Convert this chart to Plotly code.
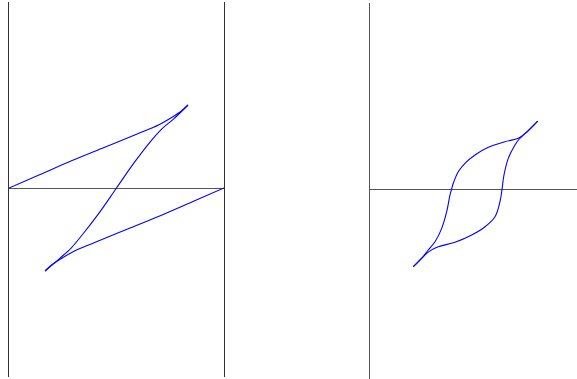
import plotly.graph_objects as go

# Left panel: Z-shaped loop (three branches)
left_upper_x = [-1.0, -0.711, -0.413, -0.104, 0.203, 0.390, 0.520, 0.604, 0.665]
left_upper_y = [0.0, 0.163, 0.331, 0.494, 0.657, 0.759, 0.855, 0.928, 1.0]
left_mid_x = [0.665, 0.53, 0.42, 0.316, 0.161, 0.0, -0.161, -0.316, -0.42, -0.53, -0.665]
left_mid_y = [1.0, 0.83, 0.71, 0.56, 0.30, 0.0, -0.30, -0.56, -0.72, -0.85, -1.0]
left_lower_x = [-0.665, -0.604, -0.520, -0.390, -0.203, 0.104, 0.413, 0.711, 1.0]
left_lower_y = [-1.0, -0.928, -0.855, -0.759, -0.657, -0.494, -0.331, -0.163, 0.0]

# Right panel: S-shaped hysteresis loop (two branches)
right_up_x = [-1.0, -0.84, -0.76, -0.651, -0.543, -0.463, -0.410, -0.386, -0.357, -0.277,
              -0.169, -0.008, 0.206, 0.474, 0.688, 0.80, 1.0]
right_up_y = [-1.06, -0.92, -0.83, -0.717, -0.533, -0.305, -0.075, 0.0, 0.085, 0.244,
              0.360, 0.474, 0.579, 0.656, 0.703, 0.77, 0.940]
right_down_x = [1.0, 0.80, 0.70, 0.635, 0.527, 0.458, 0.426, 0.394, 0.314, 0.153,
                -0.061, -0.330, -0.598, -0.72, -0.84, -1.0]
right_down_y = [0.940, 0.77, 0.69, 0.611, 0.428, 0.199, 0.0, -0.167, -0.373, -0.511,
                -0.625, -0.725, -0.785, -0.835, -0.92, -1.06]

W, H = 577, 379
line_style = dict(color="#0000ff", width=1.1, shape="spline", smoothing=1.0)

fig = go.Figure()
for xs, ys in [(left_upper_x, left_upper_y), (left_mid_x, left_mid_y), (left_lower_x, left_lower_y)]:
    fig.add_trace(go.Scatter(x=xs, y=ys, mode="lines", line=line_style,
                             xaxis="x", yaxis="y", showlegend=False, hoverinfo="skip"))
for xs, ys in [(right_up_x, right_up_y), (right_down_x, right_down_y)]:
    fig.add_trace(go.Scatter(x=xs, y=ys, mode="lines", line=line_style,
                             xaxis="x2", yaxis="y2", showlegend=False, hoverinfo="skip"))

hidden = dict(showgrid=False, showticklabels=False, ticks="", zeroline=False, showline=False)

fig.update_layout(
    width=W, height=H,
    margin=dict(l=0, r=0, t=0, b=0),
    paper_bgcolor="white", plot_bgcolor="white",
    hovermode=False,
    xaxis=dict(domain=[9 / W, 224 / W], range=[-1.0, 1.0], anchor="y", **hidden),
    yaxis=dict(domain=[1 - 377 / H, 1 - 2 / H], range=[-2.277, 2.241], anchor="x",
               showgrid=False, showticklabels=False, ticks="",
               showline=True, mirror=True, linecolor="#333333", linewidth=1,
               zeroline=True, zerolinecolor="#555555", zerolinewidth=1),
    xaxis2=dict(domain=[369.5 / W, 1.0], range=[-1.704, 1.632], anchor="y2", **hidden),
    yaxis2=dict(domain=[0.0, 1 - 3 / H], range=[-2.601, 2.56], anchor="x2",
                showgrid=False, showticklabels=False, ticks="",
                showline=True, linecolor="#555555", linewidth=1,
                zeroline=True, zerolinecolor="#555555", zerolinewidth=1),
)

fig.write_html(
    "out.html",
    config={"displayModeBar": False, "staticPlot": True},
    post_script="document.body.style.margin='0';document.body.style.overflow='hidden';",
)
